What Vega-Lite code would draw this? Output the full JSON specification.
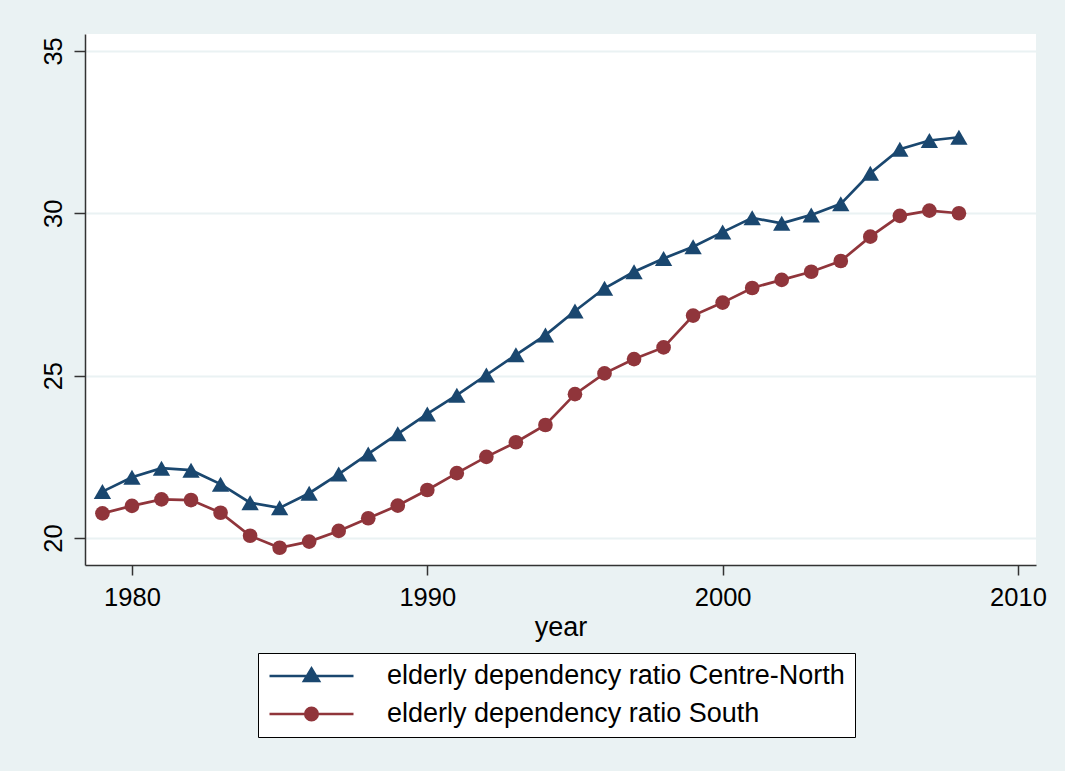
{
  "$schema": "https://vega.github.io/schema/vega-lite/v6.json",
  "width": 951,
  "height": 531,
  "autosize": {"type": "none"},
  "padding": {"left": 85, "top": 34, "right": 29, "bottom": 206},
  "background": "#EAF2F3",
  "config": {
    "font": "Liberation Sans",
    "view": {"fill": "white", "stroke": null},
    "axis": {
      "labelFont": "Liberation Sans",
      "titleFont": "Liberation Sans",
      "labelColor": "black",
      "titleColor": "black",
      "domainColor": "#333333",
      "tickColor": "#333333",
      "domainWidth": 1.5,
      "tickWidth": 1.5
    }
  },
  "data": {
    "values": [
      {"year": 1979, "region": "elderly dependency ratio Centre-North", "ratio": 21.43},
      {"year": 1980, "region": "elderly dependency ratio Centre-North", "ratio": 21.87},
      {"year": 1981, "region": "elderly dependency ratio Centre-North", "ratio": 22.15},
      {"year": 1982, "region": "elderly dependency ratio Centre-North", "ratio": 22.09},
      {"year": 1983, "region": "elderly dependency ratio Centre-North", "ratio": 21.66},
      {"year": 1984, "region": "elderly dependency ratio Centre-North", "ratio": 21.09},
      {"year": 1985, "region": "elderly dependency ratio Centre-North", "ratio": 20.93},
      {"year": 1986, "region": "elderly dependency ratio Centre-North", "ratio": 21.38},
      {"year": 1987, "region": "elderly dependency ratio Centre-North", "ratio": 21.97},
      {"year": 1988, "region": "elderly dependency ratio Centre-North", "ratio": 22.59},
      {"year": 1989, "region": "elderly dependency ratio Centre-North", "ratio": 23.21},
      {"year": 1990, "region": "elderly dependency ratio Centre-North", "ratio": 23.82},
      {"year": 1991, "region": "elderly dependency ratio Centre-North", "ratio": 24.40},
      {"year": 1992, "region": "elderly dependency ratio Centre-North", "ratio": 25.02},
      {"year": 1993, "region": "elderly dependency ratio Centre-North", "ratio": 25.64},
      {"year": 1994, "region": "elderly dependency ratio Centre-North", "ratio": 26.25},
      {"year": 1995, "region": "elderly dependency ratio Centre-North", "ratio": 26.99},
      {"year": 1996, "region": "elderly dependency ratio Centre-North", "ratio": 27.69},
      {"year": 1997, "region": "elderly dependency ratio Centre-North", "ratio": 28.20},
      {"year": 1998, "region": "elderly dependency ratio Centre-North", "ratio": 28.61},
      {"year": 1999, "region": "elderly dependency ratio Centre-North", "ratio": 28.97},
      {"year": 2000, "region": "elderly dependency ratio Centre-North", "ratio": 29.42},
      {"year": 2001, "region": "elderly dependency ratio Centre-North", "ratio": 29.86},
      {"year": 2002, "region": "elderly dependency ratio Centre-North", "ratio": 29.69},
      {"year": 2003, "region": "elderly dependency ratio Centre-North", "ratio": 29.95},
      {"year": 2004, "region": "elderly dependency ratio Centre-North", "ratio": 30.29},
      {"year": 2005, "region": "elderly dependency ratio Centre-North", "ratio": 31.23},
      {"year": 2006, "region": "elderly dependency ratio Centre-North", "ratio": 31.97},
      {"year": 2007, "region": "elderly dependency ratio Centre-North", "ratio": 32.24},
      {"year": 2008, "region": "elderly dependency ratio Centre-North", "ratio": 32.34},
      {"year": 1979, "region": "elderly dependency ratio South", "ratio": 20.76},
      {"year": 1980, "region": "elderly dependency ratio South", "ratio": 20.99},
      {"year": 1981, "region": "elderly dependency ratio South", "ratio": 21.19},
      {"year": 1982, "region": "elderly dependency ratio South", "ratio": 21.17},
      {"year": 1983, "region": "elderly dependency ratio South", "ratio": 20.78},
      {"year": 1984, "region": "elderly dependency ratio South", "ratio": 20.07},
      {"year": 1985, "region": "elderly dependency ratio South", "ratio": 19.70},
      {"year": 1986, "region": "elderly dependency ratio South", "ratio": 19.89},
      {"year": 1987, "region": "elderly dependency ratio South", "ratio": 20.22},
      {"year": 1988, "region": "elderly dependency ratio South", "ratio": 20.61},
      {"year": 1989, "region": "elderly dependency ratio South", "ratio": 21.00},
      {"year": 1990, "region": "elderly dependency ratio South", "ratio": 21.48},
      {"year": 1991, "region": "elderly dependency ratio South", "ratio": 22.00},
      {"year": 1992, "region": "elderly dependency ratio South", "ratio": 22.50},
      {"year": 1993, "region": "elderly dependency ratio South", "ratio": 22.95},
      {"year": 1994, "region": "elderly dependency ratio South", "ratio": 23.48},
      {"year": 1995, "region": "elderly dependency ratio South", "ratio": 24.43},
      {"year": 1996, "region": "elderly dependency ratio South", "ratio": 25.07},
      {"year": 1997, "region": "elderly dependency ratio South", "ratio": 25.51},
      {"year": 1998, "region": "elderly dependency ratio South", "ratio": 25.87},
      {"year": 1999, "region": "elderly dependency ratio South", "ratio": 26.85},
      {"year": 2000, "region": "elderly dependency ratio South", "ratio": 27.25},
      {"year": 2001, "region": "elderly dependency ratio South", "ratio": 27.70},
      {"year": 2002, "region": "elderly dependency ratio South", "ratio": 27.95},
      {"year": 2003, "region": "elderly dependency ratio South", "ratio": 28.20},
      {"year": 2004, "region": "elderly dependency ratio South", "ratio": 28.53},
      {"year": 2005, "region": "elderly dependency ratio South", "ratio": 29.28},
      {"year": 2006, "region": "elderly dependency ratio South", "ratio": 29.92},
      {"year": 2007, "region": "elderly dependency ratio South", "ratio": 30.08},
      {"year": 2008, "region": "elderly dependency ratio South", "ratio": 30.00}
    ]
  },
  "encoding": {
    "x": {
      "field": "year",
      "type": "quantitative",
      "scale": {"domain": [1978.41, 2010.61], "nice": false, "zero": false},
      "axis": {
        "values": [1980, 1990, 2000, 2010],
        "format": "d",
        "grid": false,
        "tickSize": 10,
        "labelPadding": 10,
        "labelFontSize": 25.5,
        "title": "year",
        "titleFontSize": 27,
        "titleFontWeight": "normal",
        "titlePadding": 4
      }
    },
    "y": {
      "field": "ratio",
      "type": "quantitative",
      "scale": {"domain": [19.17, 35.52], "nice": false, "zero": false},
      "axis": {
        "values": [20, 25, 30, 35],
        "title": null,
        "grid": true,
        "gridColor": "#EAF2F3",
        "gridWidth": 2,
        "tickSize": 11,
        "labelAngle": -90,
        "labelAlign": "center",
        "labelBaseline": "bottom",
        "labelPadding": 8,
        "labelFontSize": 25.5
      }
    },
    "color": {
      "field": "region",
      "type": "nominal",
      "scale": {
        "domain": ["elderly dependency ratio Centre-North", "elderly dependency ratio South"],
        "range": ["#1A476F", "#90353B"]
      },
      "legend": {
        "orient": "none",
        "legendX": 173,
        "legendY": 619,
        "title": null,
        "direction": "vertical",
        "strokeColor": "black",
        "fillColor": "white",
        "padding": 10,
        "symbolSize": 7056,
        "symbolStrokeWidth": 2.5,
        "clipHeight": 26,
        "labelOffset": 32,
        "labelFont": "Liberation Sans",
        "labelFontSize": 27,
        "labelColor": "black",
        "labelLimit": 700,
        "rowPadding": 11,
        "encode": {
          "symbols": {
            "update": {
              "shape": {"signal": "datum.value === 'elderly dependency ratio Centre-North' ? 'M-1,0H1M0,-0.18L0.18,0.12L-0.18,0.12Z' : 'M-1,0H1M0.15,0A0.15,0.15,0,1,1,-0.15,0A0.15,0.15,0,1,1,0.15,0Z'"},
              "fill": {"signal": "scale('color', datum.value)"},
              "stroke": {"signal": "scale('color', datum.value)"},
              "strokeWidth": {"value": 2.5},
              "size": {"value": 7056},
              "opacity": {"value": 1}
            }
          }
        }
      }
    }
  },
  "layer": [
    {
      "mark": {"type": "line", "strokeWidth": 2.7}
    },
    {
      "transform": [{"filter": "datum.region === 'elderly dependency ratio Centre-North'"}],
      "mark": {"type": "point", "filled": true, "opacity": 1, "shape": "triangle-up", "size": 300}
    },
    {
      "transform": [{"filter": "datum.region === 'elderly dependency ratio South'"}],
      "mark": {"type": "point", "filled": true, "opacity": 1, "shape": "circle", "size": 215}
    }
  ]
}
